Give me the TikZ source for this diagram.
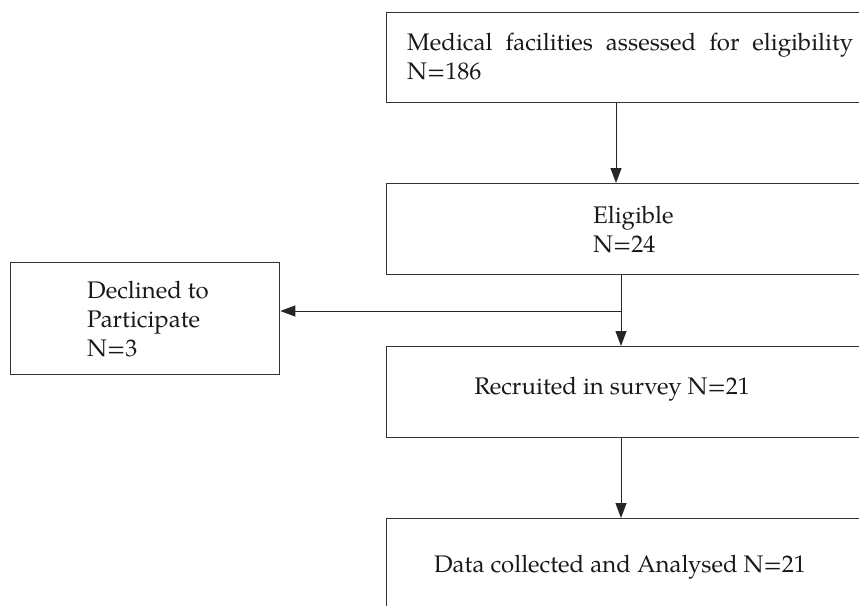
\documentclass[tikz,border=0pt]{standalone}
\usepackage{fontspec}
\setmainfont{TeX Gyre Pagella}
\usetikzlibrary{arrows.meta}
\tikzset{
  box/.style={draw=black!80, line width=1.3pt, rectangle, inner sep=0pt, anchor=north west},
  txt/.style={inner sep=0pt, font=\fontsize{24}{29}\selectfont, text=black!90},
  arr/.style={draw=black!85, line width=1pt, -{Triangle[length=15pt,width=11pt]}}
}
\begin{document}
\begin{tikzpicture}[x=1pt,y=-1pt]
\useasboundingbox (0,0) rectangle (859,605);
\clip (0,0) rectangle (859,605);
\node[box, minimum width=494, minimum height=90] (top) at (386,12) {};
\node[box, minimum width=494, minimum height=91] (elig) at (386,183) {};
\node[box, minimum width=269, minimum height=112] (decl) at (10,262) {};
\node[box, minimum width=494, minimum height=91] (recr) at (386,346) {};
\node[box, minimum width=494, minimum height=100] (data) at (386,518) {};
\node[txt, anchor=base west, text width=446, align=left] (ttop) at (407,50)
  {Medical\hfill facilities\hfill assessed\hfill for\hfill eligibility\\N=186};
\node[txt, anchor=base west, align=left] (telig) at (593,252) {Eligible\\N=24};
\node[txt, anchor=base west, align=left] (tdecl) at (87,356) {Declined to\\Participate\\N=3};
\node[txt, anchor=base] (trecr) at (612,394) {Recruited in survey N=21};
\node[txt, anchor=base] (tdata) at (620,572) {Data collected and Analysed N=21};
\coordinate (xa) at (616,0);
\coordinate (xb) at (621,0);
\coordinate (yb) at (0,311);
\draw[arr] (top.south -| xa) -- (elig.north -| xa);
\draw[arr] (elig.south -| xb) -- (recr.north -| xb);
\draw[arr] (xb |- yb) -- (decl.east |- yb);
\draw[arr] (recr.south -| xb) -- (data.north -| xb);
\end{tikzpicture}
\end{document}
